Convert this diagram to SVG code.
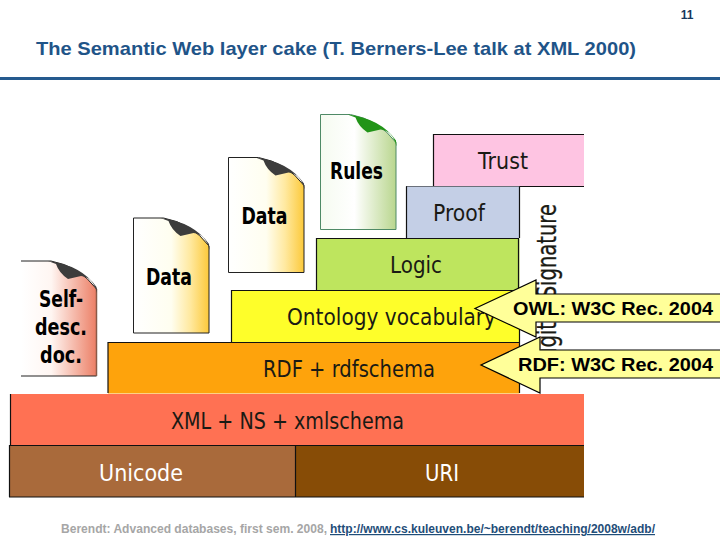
<svg xmlns="http://www.w3.org/2000/svg" xmlns:xlink="http://www.w3.org/1999/xlink" width="720" height="540" viewBox="0 0 720 540">
<style>
.t{font-family:"DejaVu Sans","Liberation Sans",sans-serif;fill:#1a1a14;font-size:23px}
.d{font-family:"DejaVu Sans Condensed","DejaVu Sans",sans-serif;fill:#000;font-size:23px;font-weight:bold;text-anchor:middle}
.l{stroke:#111;stroke-width:1.2;fill:none}
.c{fill:#ffff99;stroke:#000;stroke-width:1.2}
.o{font-family:"Liberation Sans",Arial,sans-serif;font-weight:bold;font-size:18px;fill:#000}
.h{font-family:"Liberation Sans",Arial,sans-serif;font-weight:bold;fill:#1f5488}
</style>
<defs>
<linearGradient id="gy"><stop offset="0" stop-color="#fff"/><stop offset=".5" stop-color="#fffef0"/><stop offset=".75" stop-color="#ffe9a0"/><stop offset="1" stop-color="#fcc93a"/></linearGradient>
<linearGradient id="gr"><stop offset="0" stop-color="#fff"/><stop offset=".4" stop-color="#fff6f2"/><stop offset="1" stop-color="#ec7f66"/></linearGradient>
<linearGradient id="gg"><stop offset="0" stop-color="#f6fbf0"/><stop offset=".45" stop-color="#fff"/><stop offset="1" stop-color="#b9d68e"/></linearGradient>
<path id="body" d="M0,0H30Q58,5 75.5,28V115H0Z"/>
<path id="curl" d="M27,0Q60,4 75.5,26L76,32Q72,16 60,15L47,18Q38,12 35,3Z"/>
</defs>
<rect width="720" height="540" fill="#fff"/>
<g id="header">
<text x="687" y="19" class="h" font-size="12" text-anchor="middle" style="fill:#17375e">11</text>
<text x="36" y="55" class="h" font-size="19" textLength="600" lengthAdjust="spacingAndGlyphs">The Semantic Web layer cake (T. Berners-Lee talk at XML 2000)</text>
<rect y="77" width="720" height="3" fill="#255a8e"/>
</g>
<g id="signature">
<text transform="translate(556,368) rotate(-90)" class="t" style="font-size:26px;stroke:#1a1a14;stroke-width:.3" textLength="164" lengthAdjust="spacingAndGlyphs">Digital Signature</text>
</g>
<g id="trust"><rect x="433" y="134.500" width="151" height="52" fill="#fec4e2"/><path class="l" d="M584,134.500H433.500V186M406,186.500H584"/><text x="503" y="169" class="t" text-anchor="middle" textLength="50" lengthAdjust="spacingAndGlyphs">Trust</text></g>
<g id="proof"><rect x="406.500" y="186.500" width="113" height="52" fill="#c4cfe6"/><path class="l" d="M406.500,238V186.500M519.500,186.500V238"/><text x="459" y="221" class="t" text-anchor="middle" textLength="52" lengthAdjust="spacingAndGlyphs">Proof</text></g>
<g id="logic"><rect x="316.500" y="238.500" width="203" height="52" fill="#bee55e"/><path class="l" d="M316.500,290V238.500H519M518.500,238.500V290"/><text x="416" y="273" class="t" text-anchor="middle" textLength="52" lengthAdjust="spacingAndGlyphs">Logic</text></g>
<g id="ontology"><rect x="231.500" y="290.500" width="288" height="52" fill="#fefe2a"/><path class="l" d="M231.500,342V290.500H519.500V342"/><text x="287" y="325" class="t" textLength="209" lengthAdjust="spacingAndGlyphs">Ontology vocabulary</text></g>
<g id="rdf"><rect x="108" y="342.500" width="411.500" height="51" fill="#fea30c"/><path class="l" d="M108,393V342.500H519.500V393"/><text x="263" y="377" class="t" textLength="172" lengthAdjust="spacingAndGlyphs">RDF + rdfschema</text></g>
<g id="xml"><rect x="10" y="394" width="574" height="51" fill="#ff7153"/><path class="l" d="M10.500,394V445"/><text x="171" y="429" class="t" textLength="233" lengthAdjust="spacingAndGlyphs">XML + NS + xmlschema</text></g>
<g id="unicode"><rect x="9" y="445" width="286" height="52" fill="#a96a3b"/><path class="l" d="M9.500,497V445.500H295M9,497H295"/><text x="141" y="481" class="t" text-anchor="middle" style="fill:#fff" textLength="84" lengthAdjust="spacingAndGlyphs">Unicode</text></g>
<g id="uri"><rect x="295" y="445" width="289" height="52" fill="#874c06"/><path class="l" d="M295.500,445V497M295,445.500H584M295,497H584"/><text x="442" y="481" class="t" text-anchor="middle" style="fill:#fff" textLength="34" lengthAdjust="spacingAndGlyphs">URI</text></g>
<g id="doc-self">
<g transform="translate(21,261)"><use xlink:href="#body" href="#body" fill="url(#gr)"/><path d="M0,0H30Q58,5 75.500,28V115H0" fill="none" stroke="#222" stroke-width="1"/><path d="M75.500,28V115" stroke="#8a5a48" stroke-width="1.500"/><use xlink:href="#curl" href="#curl" fill="#3c3c3c"/></g>
<text class="d" x="61" y="307" textLength="44" lengthAdjust="spacingAndGlyphs">Self-</text><text class="d" x="61" y="335" textLength="52" lengthAdjust="spacingAndGlyphs">desc.</text><text class="d" x="61" y="363" textLength="42" lengthAdjust="spacingAndGlyphs">doc.</text>
</g>
<g id="doc-data-1">
<g transform="translate(133.500,218)"><use xlink:href="#body" href="#body" fill="url(#gy)" stroke="#222" stroke-width="1"/><use xlink:href="#curl" href="#curl" fill="#3c3c3c"/></g>
<text class="d" x="169" y="285" textLength="46" lengthAdjust="spacingAndGlyphs">Data</text>
</g>
<g id="doc-data-2">
<g transform="translate(228.500,157.500)"><use xlink:href="#body" href="#body" fill="url(#gy)" stroke="#222" stroke-width="1"/><use xlink:href="#curl" href="#curl" fill="#3c3c3c"/></g>
<text class="d" x="264.500" y="224" textLength="46" lengthAdjust="spacingAndGlyphs">Data</text>
</g>
<g id="doc-rules">
<g transform="translate(320.500,114.500)"><use xlink:href="#body" href="#body" fill="url(#gg)" stroke="#4f8a66" stroke-width="1"/><use xlink:href="#curl" href="#curl" fill="#229418"/></g>
<text class="d" x="356.500" y="179" textLength="53" lengthAdjust="spacingAndGlyphs">Rules</text>
</g>
<g id="callout-owl"><path class="c" d="M720,294H536V280L475,308.500L536,337V322H720"/><text class="o" x="513" y="315" textLength="200" lengthAdjust="spacingAndGlyphs">OWL: W3C Rec. 2004</text></g>
<g id="callout-rdf"><path class="c" d="M720,350H540V337L481,365L540,393V378H720"/><text class="o" x="518" y="371" textLength="195" lengthAdjust="spacingAndGlyphs">RDF: W3C Rec. 2004</text></g>
<g id="footer">
<text x="61" y="533" font-family="Liberation Sans, Arial, sans-serif" font-size="12" fill="#a6a6a6" font-weight="bold" textLength="266" lengthAdjust="spacingAndGlyphs">Berendt: Advanced databases, first sem. 2008,</text>
<text x="330" y="533" font-family="Liberation Sans, Arial, sans-serif" font-size="12" fill="#1f4e79" font-weight="bold" text-decoration="underline" textLength="325" lengthAdjust="spacingAndGlyphs">http://www.cs.kuleuven.be/~berendt/teaching/2008w/adb/</text>
</g>
</svg>
